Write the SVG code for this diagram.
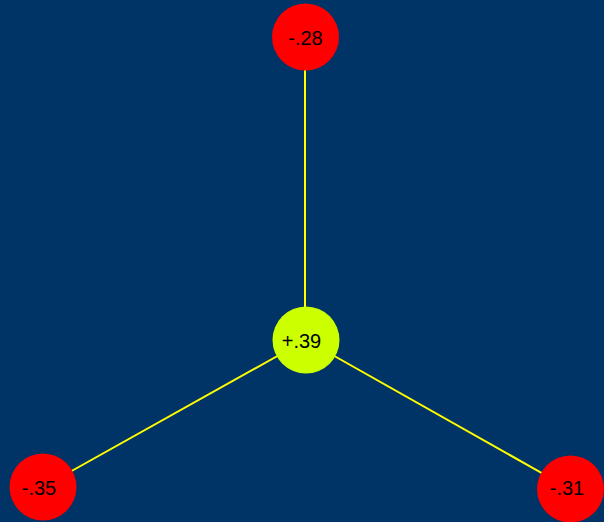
<svg xmlns="http://www.w3.org/2000/svg" width="604" height="522" viewBox="0 0 604 522">
  <style>
    .edge { stroke: #ffff00; stroke-width: 2; fill: none; }
    .neg { fill: #ff0000; }
    .pos { fill: #ccff00; }
    .lbl { font-family: "Liberation Sans", Arial, sans-serif; font-size: 20px; fill: #000000; text-anchor: middle; }
  </style>
  <rect x="0" y="0" width="604" height="522" fill="#003366"/>
  <g id="connectors">
    <line class="edge" x1="305" y1="340" x2="305" y2="37"/>
    <line class="edge" x1="306" y1="340" x2="43" y2="487"/>
    <line class="edge" x1="306" y1="340" x2="570" y2="489"/>
  </g>
  <g id="node-top">
    <circle class="neg" cx="305.5" cy="37" r="33.5"/>
    <text class="lbl" x="305.5" y="45">-.28</text>
  </g>
  <g id="node-center">
    <circle class="pos" cx="306" cy="340" r="33.5"/>
    <text class="lbl" x="301.5" y="347.5">+.39</text>
  </g>
  <g id="node-left">
    <circle class="neg" cx="43" cy="487" r="33.5"/>
    <text class="lbl" x="39" y="495">-.35</text>
  </g>
  <g id="node-right">
    <circle class="neg" cx="570.5" cy="489" r="33.5"/>
    <text class="lbl" x="567" y="495">-.31</text>
  </g>
</svg>
